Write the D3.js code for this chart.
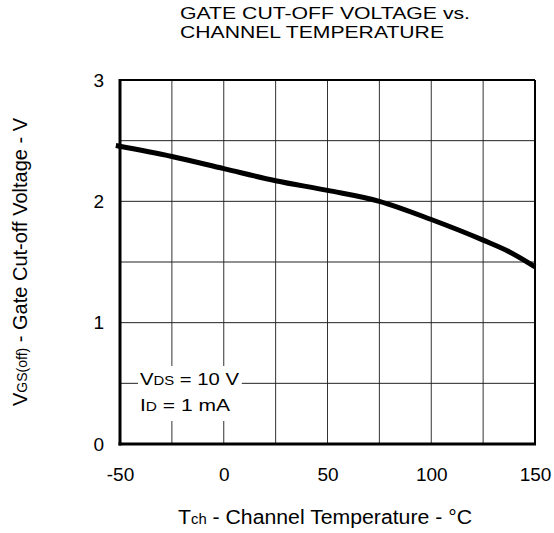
<!DOCTYPE html>
<html><head><meta charset="utf-8">
<script src="https://cdn.jsdelivr.net/npm/d3@7"></script>
<style>body{margin:0;background:#fff}svg{display:block}text{font-family:"Liberation Sans",Arial,sans-serif;fill:#000}</style>
</head><body>
<svg id="c" width="554" height="533"></svg>
<script>
const temps = [-52, -25, 0, 25, 50, 75, 100, 125, 137.5, 150];
const vgs = [2.46, 2.37, 2.27, 2.17, 2.09, 2.0, 1.85, 1.68, 1.585, 1.46];
const xTicks = [-50, 0, 50, 100, 150];
const yTicks = [0, 1, 2, 3];
const xGrid = [-25, 0, 25, 50, 75, 100, 125];
const yGrid = [0.5, 1, 1.5, 2, 2.5];

const svg = d3.select("#c");
const x = d3.scaleLinear().domain([-50, 150]).range([120, 535]);
const y = d3.scaleLinear().domain([0, 3]).range([444, 80]);

// grid
svg.append("g").selectAll("line").data(xGrid).join("line")
  .attr("x1", d => x(d)).attr("x2", d => x(d)).attr("y1", y(0)).attr("y2", y(3))
  .attr("stroke", "#333").attr("stroke-width", 1);
svg.append("g").selectAll("line").data(yGrid).join("line")
  .attr("x1", x(-50)).attr("x2", x(150)).attr("y1", d => y(d)).attr("y2", d => y(d))
  .attr("stroke", "#222").attr("stroke-width", 1);

// legend box (white background)
const lg = svg.append("g");
const lt1 = lg.append("text").attr("x", 140).attr("y", 385).attr("font-size", 17)
  .attr("textLength", 99).attr("lengthAdjust", "spacingAndGlyphs");
lt1.append("tspan").text("V");
lt1.append("tspan").attr("font-size", 12.5).text("DS");
lt1.append("tspan").text(" = 10 V");
const lt2 = lg.append("text").attr("x", 140).attr("y", 411).attr("font-size", 17)
  .attr("textLength", 90).attr("lengthAdjust", "spacingAndGlyphs");
lt2.append("tspan").text("I");
lt2.append("tspan").attr("font-size", 12.5).text("D");
lt2.append("tspan").text(" = 1 mA");
const bb = lg.node().getBBox();
lg.insert("rect", "text").attr("x", bb.x - 2).attr("y", bb.y - 4)
  .attr("width", bb.width + 4).attr("height", bb.height + 10).attr("fill", "#fff");

// frame
svg.append("line").attr("x1", x(-50)).attr("x2", x(150)).attr("y1", y(3)).attr("y2", y(3))
  .attr("stroke", "#000").attr("stroke-width", 2);
svg.append("line").attr("x1", x(150)).attr("x2", x(150)).attr("y1", y(3)).attr("y2", y(0))
  .attr("stroke", "#000").attr("stroke-width", 2);
svg.append("line").attr("x1", x(-50)).attr("x2", x(-50)).attr("y1", y(3) - 1).attr("y2", y(0) + 1.5)
  .attr("stroke", "#000").attr("stroke-width", 3);
svg.append("line").attr("x1", x(-50) - 1.5).attr("x2", x(150) + 1).attr("y1", y(0)).attr("y2", y(0))
  .attr("stroke", "#000").attr("stroke-width", 3);

// curve
const line = d3.line().x((d, i) => x(temps[i])).y(d => y(d)).curve(d3.curveMonotoneX);
svg.append("path").attr("d", line(vgs)).attr("fill", "none").attr("stroke", "#000")
  .attr("stroke-width", 5);

// axes tick labels
const fmt = d => String(d);
const xAxis = d3.axisBottom(x).tickValues(xTicks).tickSize(0).tickPadding(24).tickFormat(fmt);
const gx = svg.append("g").attr("transform", `translate(0,${y(0)})`).call(xAxis);
gx.select(".domain").remove();
gx.selectAll("text").attr("font-size", 19).attr("font-family", "Liberation Sans, Arial, sans-serif").attr("fill", "#000");
const yAxis = d3.axisLeft(y).tickValues(yTicks).tickSize(0).tickPadding(16).tickFormat(fmt);
const gy = svg.append("g").attr("transform", `translate(${x(-50)},0)`).call(yAxis);
gy.select(".domain").remove();
gy.selectAll("text").attr("font-size", 19).attr("font-family", "Liberation Sans, Arial, sans-serif").attr("fill", "#000");

// title
svg.append("text").attr("x", 180).attr("y", 18.5).attr("font-size", 16.5)
  .attr("textLength", 290).attr("lengthAdjust", "spacingAndGlyphs").text("GATE CUT-OFF VOLTAGE vs.");
svg.append("text").attr("x", 180).attr("y", 37.5).attr("font-size", 16.5)
  .attr("textLength", 264).attr("lengthAdjust", "spacingAndGlyphs").text("CHANNEL TEMPERATURE");

// x title
const xt = svg.append("text").attr("x", 178).attr("y", 524).attr("font-size", 20)
  .attr("textLength", 294).attr("lengthAdjust", "spacingAndGlyphs");
xt.append("tspan").text("T");
xt.append("tspan").attr("font-size", 14).text("ch");
xt.append("tspan").text(" - Channel Temperature - °C");

// y title
const yt = svg.append("text").attr("transform", `translate(27,${(y(0) + y(3)) / 2}) rotate(-90)`)
  .attr("text-anchor", "middle").attr("font-size", 20)
  .attr("textLength", 288).attr("lengthAdjust", "spacingAndGlyphs");
yt.append("tspan").text("V");
yt.append("tspan").attr("font-size", 14).text("GS(off)");
yt.append("tspan").text(" - Gate Cut-off Voltage - V");
</script>
</body></html>
